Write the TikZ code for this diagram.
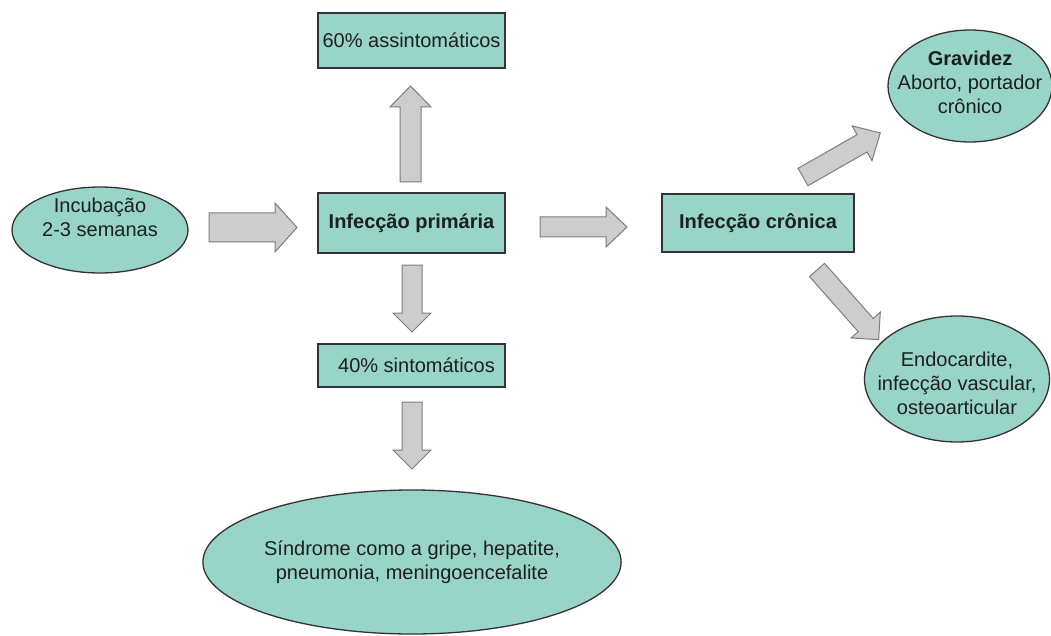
\documentclass[tikz,border=0pt]{standalone}
\usepackage{fontspec}
\setmainfont{Liberation Sans}
\usetikzlibrary{shapes.geometric}
\definecolor{tealfill}{RGB}{153,212,200}
\definecolor{arrfill}{RGB}{205,205,205}
\definecolor{arrline}{RGB}{125,125,125}
\definecolor{txt}{RGB}{28,32,32}
\newcommand\blockarr[6]{%
  \draw[blockarrow, shift={(#1)}, rotate=#2]
    (0,-#4) -- ({#3-#6},-#4) -- ({#3-#6},-#5) -- (#3,0) -- ({#3-#6},#5) -- ({#3-#6},#4) -- (0,#4) -- cycle;}
\begin{document}
\begin{tikzpicture}[x=1pt,y=-1pt,
  every node/.style={font=\fontsize{20}{24}\selectfont, text=txt, align=center, inner sep=0pt},
  tbox/.style={draw=black!80, line width=1.3pt, fill=tealfill, rectangle},
  tell/.style={draw=black!80, line width=1.3pt, fill=tealfill, ellipse},
  blockarrow/.style={draw=arrline, line width=1pt, fill=arrfill, line join=miter}]
\useasboundingbox (0,0) rectangle (1051,636);
% nodes
\node[tell, minimum width=176pt, minimum height=86pt] (inc) at (100,230) {};
\node (inctext) at (100,217) {Incubação\\2-3 semanas};
\node[tbox, minimum width=187pt, minimum height=60pt] (prim) at (411.5,223) {\bfseries Infecção primária};
\node[tbox, minimum width=187pt, minimum height=55pt] (asym) at (411.5,40.5) {60\% assintomáticos};
\node[tbox, minimum width=187pt, minimum height=43pt] (sym) at (411.5,365.5) {\hspace*{10pt}40\% sintomáticos};
\node[tell, minimum width=320pt, minimum height=144pt] (sind) at (412,562) {Síndrome como a gripe, hepatite,\\pneumonia, meningoencefalite};
\node[tbox, minimum width=192pt, minimum height=58pt] (cron) at (758,223) {\bfseries Infecção crônica};
\node[tell, minimum width=164pt, minimum height=112pt] (grav) at (970,86) {};
\node (gravtext) at (970,82) {{\bfseries Gravidez}\\Aborto, portador\\crônico};
\node[tell, minimum width=185pt, minimum height=126pt] (endo) at (957,379) {};
\node (endotext) at (957,383) {Endocardite,\\infecção vascular,\\osteoarticular};
% arrow anchors
\coordinate (a1) at (209,227.5);
\coordinate (a2) at (410.5,182);
\coordinate (a3) at (412,265);
\coordinate (a4) at (412,402);
\coordinate (a5) at (540,227);
\coordinate (a6) at (803,177);
\coordinate (a7) at (817,270);
% block arrows
\blockarr{a1}{0}{88}{14.5}{24.5}{22}
\blockarr{a2}{90}{96}{10.5}{20.5}{21}
\blockarr{a3}{-90}{67}{10}{19}{19}
\blockarr{a4}{-90}{67}{10}{19}{19}
\blockarr{a5}{0}{87}{10}{20}{21}
\blockarr{a6}{29.7}{89}{10}{20}{21}
\blockarr{a7}{-48.5}{93}{10}{19.5}{19.5}
\end{tikzpicture}
\end{document}
